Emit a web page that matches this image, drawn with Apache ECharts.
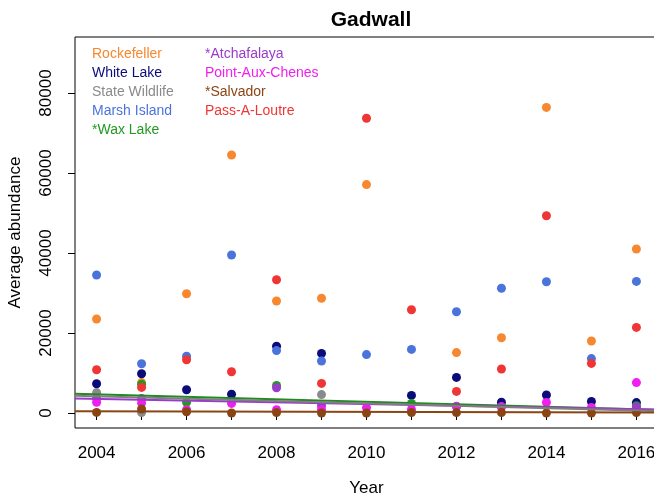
<!DOCTYPE html>
<html>
<head>
<meta charset="utf-8">
<script src="https://cdn.jsdelivr.net/npm/echarts@6/dist/echarts.min.js"></script>
<style>
  html, body { margin: 0; padding: 0; background: #fff; }
  #chart { width: 654px; height: 499px; }
</style>
</head>
<body>
<div id="chart"></div>
<script>
// Survey years
const years = [2004, 2005, 2006, 2007, 2008, 2009, 2010, 2011, 2012, 2013, 2014, 2015, 2016];

// Average Gadwall abundance per site and year (null = not surveyed / not shown)
const rockefeller    = [23500, 7600, 29800, 64500, 28000, 28700, 57100, null, 15100, 18800, 76400, 18000, 41000];
const whiteLake      = [7300, 9800, 5800, 4700, 16700, 14900, null, 4400, 8900, 2700, 4500, 2900, 2600];
const stateWildlife  = [5100, 100, null, null, null, 4600, null, null, null, null, null, null, 1000];
const marshIsland    = [34500, 12300, 14200, 39500, 15600, 13000, 14600, 15900, 25300, 31200, 32800, 13600, 32900];
const waxLake        = [null, 7200, 2700, null, 6900, null, null, 2400, null, null, null, null, 1800];
const atchafalaya    = [3700, 3600, null, null, 6300, 1800, null, null, 1600, 1600, null, null, 1500];
const pointAuxChenes = [2700, 2500, 800, 2400, 800, 800, 1300, 900, 1700, 1500, 2650, 1400, 7600];
const salvador       = [150, 1000, 300, 0, 100, 0, 0, 100, 100, 100, 0, 0, 100];
const passALoutre    = [10800, 6400, 13300, 10300, 33300, 7400, 73700, 25800, 5400, 11000, 49300, 12400, 21400];

// Fitted trend lines: value at the left and right edge of the plot region
const trendX           = [2003.52, 2016.48];
const waxLakeTrend     = [4800, 800];
const stateWildTrend   = [4300, 500];
const atchafalayaTrend = [3650, 850];
const salvadorTrend    = [450, 150];

// Axis ticks
const yTicks = [0, 20000, 40000, 60000, 80000];
const xTicks = years;
const xLabels = [2004, 2006, 2008, 2010, 2012, 2014, 2016];

const sites = [
  { name: 'Rockefeller',      data: rockefeller,    color: '#F7882F' },
  { name: 'White Lake',       data: whiteLake,      color: '#0B0B7A' },
  { name: 'State Wildlife',   data: stateWildlife,  color: '#8A8A8A' },
  { name: 'Marsh Island',     data: marshIsland,    color: '#4A74DC' },
  { name: '*Wax Lake',        data: waxLake,        color: '#229A22' },
  { name: '*Atchafalaya',     data: atchafalaya,    color: '#9A3BCB' },
  { name: 'Point-Aux-Chenes', data: pointAuxChenes, color: '#F01EF0' },
  { name: '*Salvador',        data: salvador,       color: '#8B4513' },
  { name: 'Pass-A-Loutre',    data: passALoutre,    color: '#F03535' }
];

const trends = [
  { data: waxLakeTrend,     color: '#1F8A1F' },
  { data: atchafalayaTrend, color: '#9A3BCB' },
  { data: stateWildTrend,   color: '#7F7F7F' },
  { data: salvadorTrend,    color: '#8B4513' }
];

const FONT = 'Liberation Sans, Arial, sans-serif';

const series = [];
sites.forEach(s => {
  series.push({
    name: s.name,
    type: 'scatter',
    symbol: 'circle',
    symbolSize: 9,
    itemStyle: { color: s.color, opacity: 1 },
    data: years.map((y, i) => s.data[i] == null ? null : [y, s.data[i]]).filter(d => d),
    z: 2,
    silent: true
  });
});
trends.forEach(t => {
  series.push({
    type: 'line',
    data: trendX.map((x, i) => [x, t.data[i]]),
    symbol: 'none',
    lineStyle: { color: t.color, width: 2 },
    z: 3,
    silent: true
  });
});

// Legend: two columns of coloured labels
const legendCols = [
  { x: 92, items: sites.slice(0, 5) },
  { x: 205, items: [sites[5], sites[6], sites[7], sites[8]] }
];
const graphics = [];
legendCols.forEach(col => {
  col.items.forEach((s, r) => {
    graphics.push({
      type: 'text',
      left: col.x,
      top: 47 + r * 19,
      style: { text: s.name, fill: s.color, font: '14px ' + FONT }
    });
  });
});

const chart = echarts.init(document.getElementById('chart'), null, { renderer: 'canvas' });
chart.setOption({
  animation: false,
  backgroundColor: '#ffffff',
  title: {
    text: 'Gadwall',
    left: 366,
    top: 5,
    textAlign: 'center',
    textStyle: { fontFamily: FONT, fontSize: 21, fontWeight: 'bold', color: '#000' }
  },
  grid: {
    left: 75, top: 37, right: -4, bottom: 71,
    containLabel: false,
    outerBoundsMode: 'none',
    show: true, borderColor: '#000', borderWidth: 1, backgroundColor: 'transparent'
  },
  xAxis: {
    type: 'value',
    min: 2003.52,
    max: 2016.48,
    name: 'Year',
    nameLocation: 'middle',
    nameGap: 52,
    nameTextStyle: { fontFamily: FONT, fontSize: 17, color: '#000' },
    axisLine: { show: false },
    splitLine: { show: false },
    axisTick: { show: true, inside: false, length: 7, customValues: xTicks, lineStyle: { color: '#000' } },
    axisLabel: {
      customValues: xLabels,
      margin: 17,
      fontFamily: FONT, fontSize: 17, color: '#000',
      formatter: v => String(v)
    }
  },
  yAxis: {
    type: 'value',
    min: -3750,
    max: 94000,
    name: 'Average abundance',
    nameLocation: 'middle',
    nameGap: 51,
    nameRotate: 90,
    nameTextStyle: { fontFamily: FONT, fontSize: 17, color: '#000' },
    axisLine: { show: false },
    splitLine: { show: false },
    axisTick: { show: true, inside: false, length: 7, customValues: yTicks, lineStyle: { color: '#000' } },
    axisLabel: {
      customValues: yTicks,
      rotate: 90,
      margin: 20,
      fontFamily: FONT, fontSize: 17, color: '#000',
      formatter: v => String(v)
    }
  },
  graphic: graphics,
  series: series
});
</script>
</body>
</html>
